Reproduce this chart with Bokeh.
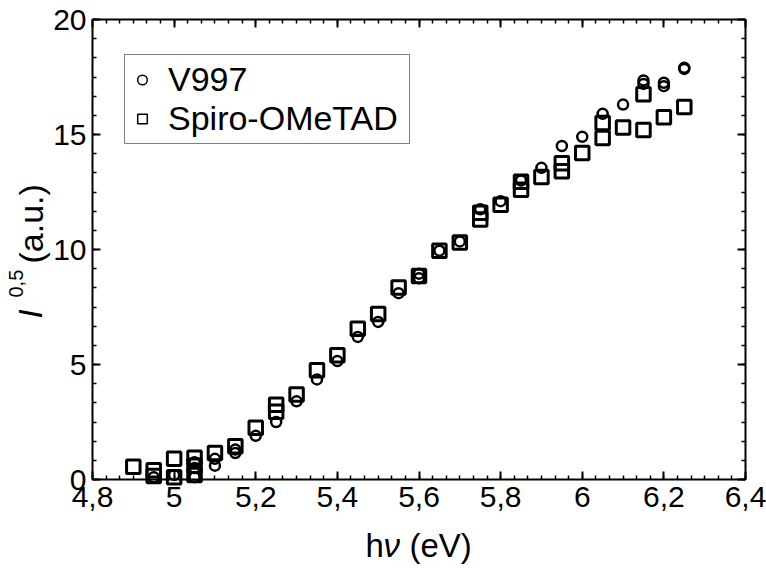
import math
from bokeh.plotting import figure
from bokeh.models import (LinearAxis, SingleIntervalTicker, CustomJSTickFormatter,
                          Legend, LegendItem, Label, Range1d)
from bokeh.embed import file_html
from bokeh.resources import INLINE

# ---- data ----
v997_x = [4.95, 5.0, 5.05, 5.05, 5.05, 5.1, 5.1, 5.15, 5.15, 5.2, 5.25, 5.3, 5.35,
          5.4, 5.45, 5.5, 5.55, 5.6, 5.6, 5.65, 5.7, 5.75, 5.8, 5.85, 5.9, 5.95,
          6.0, 6.05, 6.1, 6.15, 6.15, 6.2, 6.2, 6.25, 6.25]
v997_y = [0.1, 0.2, 0.1, 0.5, 0.75, 0.6, 0.9, 1.15, 1.3, 1.9, 2.5, 3.4, 4.35,
          5.15, 6.2, 6.85, 8.1, 8.75, 8.95, 9.95, 10.35, 11.75, 12.1, 13.0, 13.55, 14.5,
          14.9, 15.9, 16.3, 17.35, 17.2, 17.25, 17.1, 17.9, 17.85]

spiro_x = [4.9, 4.95, 4.95, 5.0, 5.0, 5.05, 5.05, 5.05, 5.1, 5.15, 5.2, 5.25, 5.25,
           5.3, 5.35, 5.4, 5.45, 5.5, 5.55, 5.6, 5.65, 5.7, 5.75, 5.75, 5.8, 5.85,
           5.85, 5.9, 5.95, 5.95, 6.0, 6.05, 6.05, 6.1, 6.15, 6.15, 6.2, 6.25]
spiro_y = [0.55, 0.4, 0.15, 0.9, 0.1, 0.95, 0.6, 0.2, 1.15, 1.45, 2.25, 3.25, 2.95,
           3.7, 4.75, 5.4, 6.55, 7.2, 8.35, 8.85, 9.95, 10.3, 11.6, 11.3, 11.95, 12.95,
           12.6, 13.15, 13.75, 13.4, 14.2, 15.5, 14.85, 15.3, 16.75, 15.2, 15.75, 16.2]

series_names = ["V997", "Spiro-OMeTAD"]
x_lim = (4.8, 6.4)
y_lim = (0, 20)

FONT = "Liberation Sans"
W, H = 766, 568
# plot box in pixels (left, right, top, bottom) within the canvas
BL, BR, BT, BB = 92, 745, 19, 479
sxu = (BR - BL) / (x_lim[1] - x_lim[0])
syu = (BB - BT) / (y_lim[1] - y_lim[0])
xr = Range1d(x_lim[0] - BL / sxu, x_lim[1] + (W - BR) / sxu)
yr = Range1d(y_lim[0] - (H - BB) / syu, y_lim[1] + BT / syu)

p = figure(width=W, height=H, output_backend="svg", toolbar_location=None,
           x_range=xr, y_range=yr,
           min_border_left=0, min_border_right=0, min_border_top=0, min_border_bottom=0)
p.background_fill_color = "white"
p.border_fill_color = "white"
p.outline_line_color = None
p.xgrid.visible = False
p.ygrid.visible = False

fmt = CustomJSTickFormatter(code="var s = (Math.round(tick*10)/10).toString(); return s.replace('.', ',');")
blank = CustomJSTickFormatter(code="return '';")

def style_axis(ax, show_labels, bounds, loc):
    ax.fixed_location = loc
    ax.bounds = bounds
    ax.axis_line_width = 2
    ax.axis_line_color = "black"
    ax.major_tick_in = 8
    ax.major_tick_out = 0
    ax.minor_tick_in = 4
    ax.minor_tick_out = 0
    ax.major_tick_line_width = 2
    ax.minor_tick_line_width = 1.5
    ax.major_tick_line_color = "black"
    ax.minor_tick_line_color = "black"
    ax.major_label_text_font = FONT
    ax.major_label_text_color = "black"
    ax.major_label_text_font_size = "30px"
    ax.formatter = fmt if show_labels else blank

p.xaxis.ticker = SingleIntervalTicker(interval=0.2, num_minor_ticks=6)
p.yaxis.ticker = SingleIntervalTicker(interval=5, num_minor_ticks=6)
style_axis(p.xaxis[0], True, x_lim, y_lim[0])
style_axis(p.yaxis[0], True, y_lim, x_lim[0])
p.xaxis.major_label_standoff = 7
p.yaxis.major_label_standoff = 6

top = LinearAxis(ticker=SingleIntervalTicker(interval=0.2, num_minor_ticks=6))
right = LinearAxis(ticker=SingleIntervalTicker(interval=5, num_minor_ticks=6))
style_axis(top, False, x_lim, y_lim[1])
style_axis(right, False, y_lim, x_lim[1])
p.add_layout(top, "above")
p.add_layout(right, "right")

# data markers
p.scatter(v997_x, v997_y, marker="circle", size=10, fill_color=None,
          line_color="black", line_width=2.5)
p.scatter(spiro_x, spiro_y, marker="square", size=13.5, fill_color=None,
          line_color="black", line_width=3)

# legend-only renderers (placed outside visible range)
lc = p.scatter([100], [100], marker="circle", size=9.5, fill_color=None,
               line_color="black", line_width=1.5)
ls = p.scatter([100], [100], marker="square", size=11.5, fill_color=None,
               line_color="black", line_width=1.5)

legend = Legend(items=[LegendItem(label=series_names[0], renderers=[lc]),
                       LegendItem(label=series_names[1], renderers=[ls])],
                location=(124, H - 56 - 88))
legend.label_text_font = FONT
legend.label_text_font_size = "34px"
legend.label_text_color = "black"
legend.label_height = 39
legend.glyph_height = 39
legend.glyph_width = 24
legend.label_standoff = 14
legend.label_width = 236
legend.padding = 5
legend.spacing = 0
legend.margin = 0
legend.border_line_color = "black"
legend.border_line_width = 1.5
legend.background_fill_color = "white"
legend.background_fill_alpha = 1
p.add_layout(legend, "center")

# axis titles composed of labels (screen px from canvas left / bottom)
def lab(text, x, y, size, style="normal", angle=0.0):
    p.add_layout(Label(x=x, y=y, x_units="screen", y_units="screen", text=text,
                       text_font=FONT, text_font_size=size, text_font_style=style,
                       text_color="black", angle=angle, text_align="left",
                       text_baseline="alphabetic"))

# x title: h nu (eV)
lab("h", 365, 23, "33px")
lab("\u03bd", 383, 23, "33px", "italic")
lab("(eV)", 409, 23, "33px")
# y title: I^0,5 (a.u.)
lab("I", 30, H - 318, "33px", "italic", math.pi / 2)
lab("0,5", 15, H - 297, "20px", "normal", math.pi / 2)
lab("(a.u.)", 30, H - 263, "34px", "normal", math.pi / 2)

open("out.html", "w").write(file_html(p, INLINE))
